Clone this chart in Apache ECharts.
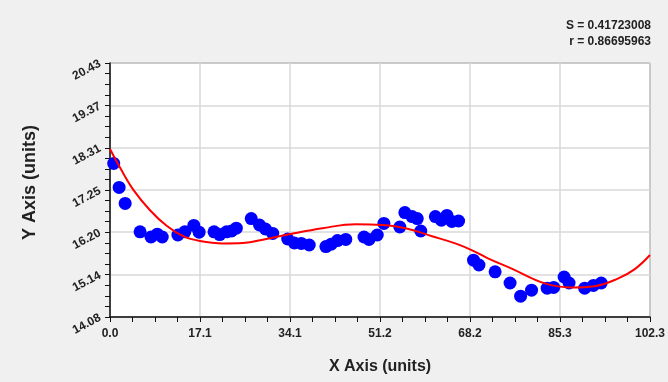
<!DOCTYPE html>
<html><head><meta charset="utf-8">
<script src="https://cdn.jsdelivr.net/npm/echarts@6/dist/echarts.min.js"></script>
<style>html,body{margin:0;padding:0;background:#f0f0f0}#c{width:668px;height:382px}</style>
</head><body><div id="c"></div>
<script>
var xTickLabels = ["0.0","17.1","34.1","51.2","68.2","85.3","102.3"];
var yTickValues = [14.08,15.14,16.20,17.25,18.31,19.37,20.43];
var yTickLabels = ["14.08","15.14","16.20","17.25","18.31","19.37","20.43"];
var yMinorTicks = [14.345,14.61,14.875,15.405,15.67,15.935,16.465,16.73,16.995,17.515,17.78,18.045,18.575,18.84,19.105,19.635,19.9,20.165];

var pointX = [0.70,1.73,2.87,5.70,7.77,8.96,9.90,12.86,14.18,15.88,16.88,19.71,20.78,22.10,23.04,23.93,26.76,28.32,29.45,30.83,33.66,34.92,36.24,37.75,40.90,41.90,43.09,44.67,48.12,49.07,50.63,51.89,54.91,55.86,57.23,58.21,58.87,61.64,62.78,63.83,64.77,66.04,68.87,69.90,72.96,75.79,77.79,79.86,82.82,84.05,86.03,86.97,89.93,91.59,93.06];
var pointY = [17.92,17.32,16.92,16.21,16.08,16.15,16.08,16.13,16.21,16.37,16.20,16.21,16.14,16.21,16.23,16.30,16.54,16.38,16.28,16.17,16.03,15.93,15.92,15.88,15.84,15.90,15.99,16.02,16.08,16.02,16.13,16.42,16.33,16.69,16.59,16.54,16.23,16.59,16.50,16.62,16.47,16.48,15.50,15.38,15.21,14.93,14.60,14.75,14.80,14.82,15.08,14.93,14.80,14.87,14.93];

var fitX = [0,1.92,4.43,7.58,10.73,13.86,17.01,21.40,25.17,29.59,33.98,40.26,46.56,51.57,55.99,61.00,65.41,69.19,71.70,76.09,82.39,87.40,91.81,96.21,99.36,102.3];
var fitY = [18.28,17.81,17.26,16.75,16.36,16.10,15.98,15.92,15.93,16.03,16.15,16.30,16.40,16.38,16.30,16.10,15.92,15.71,15.54,15.29,14.92,14.82,14.85,15.04,15.27,15.63];

var statLines = ["S = 0.41723008", "r = 0.86695963"];
var xAxisTitle = "X Axis (units)";
var yAxisTitle = "Y Axis (units)";

var pts = pointX.map(function(x,i){return [x, pointY[i]];});
var fit = fitX.map(function(x,i){return [x, fitY[i]];});
var FONT = '"Liberation Sans", Arial, sans-serif';

var chart = echarts.init(document.getElementById('c'), null, {renderer:'canvas'});
chart.setOption({
  backgroundColor: '#f0f0f0',
  animation: false,
  grid: {left:110, right:16, top:63, bottom:65, containLabel:false, show:true, backgroundColor:'#ffffff', borderColor:'#444', borderWidth:1},
  graphic: [
    {type:'text', right:17, top:20, style:{text:statLines[0], font:'bold 12px '+FONT, fill:'#222', textAlign:'right'}},
    {type:'text', right:17, top:36, style:{text:statLines[1], font:'bold 12px '+FONT, fill:'#222', textAlign:'right'}},
    {type:'text', x:30.5, y:182.5, rotation:Math.PI/2, style:{text:yAxisTitle, font:'bold 18px '+FONT, fill:'#222', textAlign:'center', textVerticalAlign:'middle'}}
  ],
  xAxis: {
    type:'value', min:0, max:102.3, interval:17.05,
    name:xAxisTitle, nameLocation:'middle', nameGap:42,
    nameTextStyle:{fontFamily:FONT, fontWeight:'bold', fontSize:16, color:'#222'},
    axisLine:{show:true, onZero:false, lineStyle:{color:'#111', width:1.5}},
    axisTick:{show:true, inside:false, length:5, lineStyle:{color:'#111'}},
    minorTick:{show:true, splitNumber:4, length:5, lineStyle:{color:'#111'}},
    splitLine:{show:true, lineStyle:{color:'#d8d8d8', width:1.5}},
    axisLabel:{fontFamily:FONT, fontWeight:'bold', fontSize:12, color:'#222', margin:11,
      formatter:function(v){var i=Math.round(v/17.05);return xTickLabels[i]!==undefined?xTickLabels[i]:'';}}
  },
  yAxis: [{
    type:'value', min:14.08, max:20.43,
    axisLine:{show:true, onZero:false, lineStyle:{color:'#111', width:1.5}},
    axisTick:{show:true, inside:false, length:5, lineStyle:{color:'#111'}, customValues:yTickValues},
    splitLine:{show:true, lineStyle:{color:'#d8d8d8', width:1.5}},
    axisLabel:{fontFamily:FONT, fontWeight:'bold', fontSize:12, color:'#222', margin:10, rotate:28,
      customValues:yTickValues,
      formatter:function(v){for(var i=0;i<yTickValues.length;i++){if(Math.abs(yTickValues[i]-v)<1e-6)return yTickLabels[i];}return '';}}
  },{
    type:'value', min:14.08, max:20.43, position:'left', alignTicks:false,
    axisLine:{show:false}, axisLabel:{show:false}, splitLine:{show:false},
    axisTick:{show:true, inside:false, length:5, lineStyle:{color:'#111'}, customValues:yMinorTicks}
  }],
  series: [
    {type:'scatter', data:pts, symbol:'circle', symbolSize:13, itemStyle:{color:'#0000ff', opacity:1}, z:2},
    {type:'line', data:fit, smooth:0.4, showSymbol:false, symbol:'none', lineStyle:{color:'#ff0000', width:2}, z:3}
  ]
});
</script></body></html>
